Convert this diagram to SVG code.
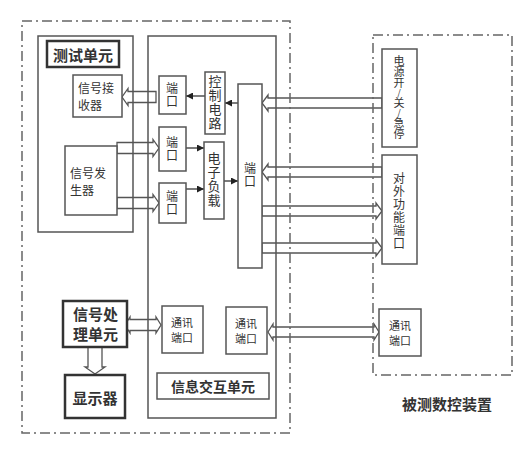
<svg xmlns="http://www.w3.org/2000/svg" width="517" height="450" viewBox="0 0 517 450">
<defs>
<style>
.bg{fill:#fff}
.dd{fill:none;stroke:#666;stroke-width:1.5;stroke-dasharray:10 4 2 4}
.cont{fill:none;stroke:#555;stroke-width:1.5}
.box{fill:#fff;stroke:#555;stroke-width:1.5}
.tbox{fill:#fff;stroke:#333;stroke-width:2.5}
.ha{fill:#fff;stroke:#555;stroke-width:1.3;stroke-linejoin:miter}
.ln{stroke:#333;stroke-width:1.3;fill:none;marker-end:url(#ah)}
text{font-family:"Noto Sans CJK SC","Noto Sans",sans-serif;fill:#333;dominant-baseline:central;text-anchor:middle}
.v{writing-mode:vertical-rl;text-orientation:upright}
.s12{font-size:12px}
.s13{font-size:13px}
.s11{font-size:11px}
.b{font-weight:bold;font-size:15px}
</style>
<marker id="ah" viewBox="0 0 8 8" refX="8" refY="4" markerWidth="7" markerHeight="7" markerUnits="userSpaceOnUse" orient="auto">
<path d="M0,0 L8,4 L0,8 Z" fill="#222"/>
</marker>
</defs>
<rect class="bg" x="0" y="0" width="517" height="450"/>

<g id="connectors">
<path class="ha" d="M156,91.5 H128 V88.5 L122,97 L128,105.5 V102.5 H156 Z"/>
<path class="ha" d="M117,142.5 H153 V139.5 L159,148 L153,156.5 V153.5 H117 Z"/>
<path class="ha" d="M117,197.5 H153 V194.5 L159,203 L153,211.5 V208.5 H117 Z"/>
<path class="ha" d="M382,98 H268 V95 L262,103 L268,111 V108 H382 Z"/>
<path class="ha" d="M382,167 H268 V164 L262,172 L268,180 V177 H382 Z"/>
<path class="ha" d="M262,206 H376 V203 L382,211 L376,219 V216 H262 Z"/>
<path class="ha" d="M262,243 H376 V240 L382,248 L376,256 V253 H262 Z"/>
<path class="ha" d="M125,325 L130,317 V319.5 H156 V317 L161,325 L156,333 V330.5 H130 V333 Z"/>
<path class="ha" d="M268,332 L273,324 V327 H374 V324 L379,332 L374,340 V337 H273 V340 Z"/>
<path class="ha" d="M88,347 V367 H85 L95,374 L105,367 H102 V347 Z"/>
<line class="ln" x1="205" y1="96" x2="186" y2="96"/>
<line class="ln" x1="238" y1="103" x2="225" y2="103"/>
<line class="ln" x1="186" y1="148" x2="204" y2="148"/>
<line class="ln" x1="186" y1="189" x2="204" y2="189"/>
<line class="ln" x1="224" y1="181" x2="238" y2="181"/>
</g>

<g id="test-unit">
<rect class="cont" x="38" y="36" width="95" height="196"/>
<rect class="tbox" x="47" y="41" width="72" height="26"/>
<text class="b" x="83" y="54">测试单元</text>
</g>
<g id="signal-receiver">
<rect class="box" x="73" y="75" width="49" height="42"/>
<text class="s12" style="text-anchor:start"><tspan x="78" y="87">信号接</tspan><tspan x="78" y="104">收器</tspan></text>
</g>
<g id="signal-generator">
<rect class="box" x="65" y="146" width="52" height="69"/>
<text class="s12" style="text-anchor:start"><tspan x="70" y="172">信号发</tspan><tspan x="70" y="189">生器</tspan></text>
</g>

<g id="info-unit">
<rect class="cont" x="148" y="36" width="128" height="382"/>
<rect class="box" x="157" y="373" width="112" height="26"/>
<text class="b" x="213" y="386" style="font-size:14px">信息交互单元</text>
</g>
<g id="port1">
<rect class="box" x="159" y="76" width="27" height="38"/>
<text class="s12 v" x="172" y="95" style="letter-spacing:1px">端口</text>
</g>
<g id="port2">
<rect class="box" x="159" y="127" width="27" height="44"/>
<text class="s12 v" x="172" y="149" style="letter-spacing:1px">端口</text>
</g>
<g id="port3">
<rect class="box" x="159" y="183" width="27" height="40"/>
<text class="s12 v" x="172" y="203" style="letter-spacing:1px">端口</text>
</g>
<g id="control-circuit">
<rect class="box" x="205" y="72" width="20" height="62"/>
<text class="s13 v" x="215" y="103" style="letter-spacing:1px">控制电路</text>
</g>
<g id="electronic-load">
<rect class="box" x="204" y="142" width="20" height="77"/>
<text class="s13 v" x="214" y="180" style="letter-spacing:1px">电子负载</text>
</g>
<g id="big-port">
<rect class="box" x="238" y="84" width="24" height="184"/>
<text class="s12 v" x="250" y="175" style="letter-spacing:1px">端口</text>
</g>

<g id="signal-processing">
<rect class="tbox" x="63" y="301" width="64" height="46"/>
<text class="b" style="text-anchor:start"><tspan x="73" y="313">信号处</tspan><tspan x="73" y="333">理单元</tspan></text>
</g>
<g id="display">
<rect class="tbox" x="65" y="375" width="60" height="43"/>
<text class="b" x="95" y="397">显示器</text>
</g>
<g id="comm-port-left">
<rect class="box" x="162" y="306" width="41" height="47"/>
<text class="s11"><tspan x="182" y="322">通讯</tspan><tspan x="182" y="337">端口</tspan></text>
</g>
<g id="comm-port-mid">
<rect class="box" x="226" y="307" width="41" height="47"/>
<text class="s11"><tspan x="246" y="323">通讯</tspan><tspan x="246" y="338">端口</tspan></text>
</g>

<g id="dut-label">
<text class="b" x="447" y="403">被测数控装置</text>
</g>
<g id="power-switch">
<rect class="box" x="382" y="49" width="35" height="98"/>
<text class="s11 v" x="399" y="97">电源开<tspan style="font-size:9px">/</tspan>关<tspan style="font-size:9px">/</tspan>急停</text>
</g>
<g id="external-port">
<rect class="box" x="382" y="155" width="35" height="109"/>
<text class="s12 v" x="399" y="211" style="letter-spacing:1px">对外功能端口</text>
</g>
<g id="comm-port-right">
<rect class="box" x="379" y="309" width="42" height="47"/>
<text class="s11"><tspan x="400" y="325">通讯</tspan><tspan x="400" y="340">端口</tspan></text>
</g>

<g id="regions">
<rect class="dd" x="22" y="21" width="268" height="412"/>
<rect class="dd" x="373" y="35" width="139" height="340"/>
</g>
</svg>
